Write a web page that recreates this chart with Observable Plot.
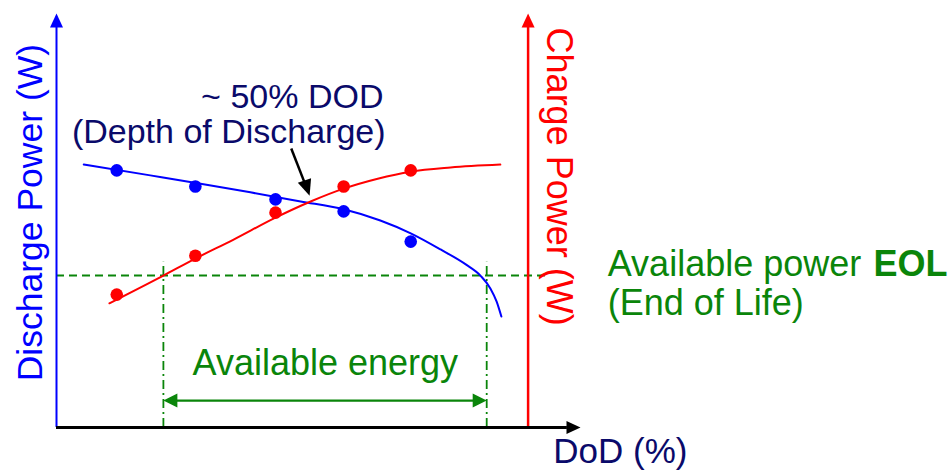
<!DOCTYPE html>
<html>
<head>
<meta charset="utf-8">
<script src="https://cdn.jsdelivr.net/npm/d3@7"></script>
<script src="https://cdn.jsdelivr.net/npm/@observablehq/plot@0.6"></script>
<style>
  html, body { margin: 0; padding: 0; background: #ffffff; }
  #chart { width: 951px; height: 470px; }
</style>
</head>
<body>
<div id="chart"></div>
<script>
// ---- Data (schematic units: DoD in %, power in arbitrary W units) ----
const measuredDoD      = [11.5, 26.5, 41.8, 54.8, 67.6];
const dischargePower   = [62.1, 58.2, 55.1, 52.2, 44.9];
const chargePower      = [32.1, 41.5, 51.9, 58.2, 62.1];

const dischargeCurveDoD = [5.2, 17.9, 27.5, 37.0, 46.6, 54.8, 61.8, 67.6, 73.3, 78.1, 80.9, 82.8, 84.0, 84.9];
const dischargeCurveW   = [63.5, 60.9, 58.9, 56.8, 54.6, 52.7, 50.0, 46.9, 43.0, 39.4, 36.7, 33.6, 30.4, 26.8];

const chargeCurveDoD = [10.1, 20.4, 26.5, 33.8, 41.8, 48.5, 54.8, 61.3, 67.6, 75.2, 84.7];
const chargeCurveW   = [30.0, 36.7, 40.8, 45.4, 50.7, 54.6, 57.7, 60.1, 61.8, 62.8, 63.5];

const eolPower = 36.7;               // available power at End of Life
const energyStartDoD = 20.4;         // charge curve meets EOL power
const energyEndDoD = 82.1;           // discharge curve meets EOL power

const leftAxisLabel  = "Discharge Power (W)";
const rightAxisLabel = "Charge Power (W)";
const xAxisLabel     = "DoD (%)";
const dodNoteLines   = ["~ 50% DOD", "(Depth of Discharge)"];
const eolLabel       = ["Available power ", "EOL", "(End of Life)"];
const energyLabel    = "Available energy";

// ---- Build tables ----
const pointsD = measuredDoD.map((x, i) => ({x, y: dischargePower[i]}));
const pointsC = measuredDoD.map((x, i) => ({x, y: chargePower[i]}));
const curveD = dischargeCurveDoD.map((x, i) => ({x, y: dischargeCurveW[i]}));
const curveC = chargeCurveDoD.map((x, i) => ({x, y: chargeCurveW[i]}));

// Filled arrowhead symbol, tip at the anchor point, pointing up before rotation
function head(L, W) {
  return { draw(ctx) { ctx.moveTo(0, 0); ctx.lineTo(W / 2, L); ctx.lineTo(-W / 2, L); ctx.closePath(); } };
}

const BLUE = "#0000ff", RED = "#ff0000", GREEN = "#0a850a", NAVY = "#0a0a6a", BLACK = "#000000";
const FONT = "Liberation Sans, Arial, Helvetica, sans-serif";

const chart = Plot.plot({
  width: 951,
  height: 470,
  marginLeft: 56,
  marginRight: 371,
  marginTop: 13,
  marginBottom: 43,
  x: { domain: [0, 100], axis: null },
  y: { domain: [0, 100], axis: null },
  style: { fontFamily: FONT, background: "#ffffff", overflow: "visible" },
  marks: [
    // EOL dashed level
    Plot.ruleY([eolPower], { x1: 0, x2: 93.7, stroke: GREEN, strokeWidth: 2, strokeDasharray: "8,5" }),
    // available energy boundaries (dash-dot)
    Plot.ruleX([energyStartDoD, energyEndDoD], { y1: 0, y2: 39.9, stroke: GREEN, strokeWidth: 1.8, strokeDasharray: "9,4,2,4" }),
    // available energy double arrow
    Plot.ruleY([6.5], { x1: energyStartDoD + 2, x2: energyEndDoD - 2, stroke: GREEN, strokeWidth: 2.2 }),
    Plot.dot([energyStartDoD], { x: d => d, y: 6.5, symbol: head(14, 14), rotate: -90, fill: GREEN, stroke: "none" }),
    Plot.dot([energyEndDoD], { x: d => d, y: 6.5, symbol: head(14, 14), rotate: 90, fill: GREEN, stroke: "none" }),

    // axes
    Plot.ruleX([0], { y1: 0, y2: 97, stroke: BLUE, strokeWidth: 2 }),
    Plot.dot([0], { x: 0, y: 100, symbol: head(14, 13), fill: BLUE, stroke: "none" }),
    Plot.ruleX([90], { y1: 0, y2: 97, stroke: RED, strokeWidth: 2.5 }),
    Plot.dot([90], { x: 90, y: 100, symbol: head(14, 13), fill: RED, stroke: "none" }),
    Plot.ruleY([0], { x1: 0, x2: 97.5, stroke: BLACK, strokeWidth: 3 }),
    Plot.dot([0], { x: 100, y: 0, symbol: head(14, 13), rotate: 90, fill: BLACK, stroke: "none" }),

    // curves
    Plot.line(curveD, { x: "x", y: "y", curve: "monotone-x", stroke: BLUE, strokeWidth: 2 }),
    Plot.line(curveC, { x: "x", y: "y", curve: "monotone-x", stroke: RED, strokeWidth: 2 }),
    Plot.dot(pointsD, { x: "x", y: "y", r: 6.3, fill: BLUE, stroke: "none" }),
    Plot.dot(pointsC, { x: "x", y: "y", r: 6.3, fill: RED, stroke: "none" }),

    // annotation arrow for ~50% DOD
    Plot.link([0], { x1: 44.8, y1: 67.4, x2: 47.6, y2: 58.3, stroke: BLACK, strokeWidth: 2.5 }),
    Plot.dot([0], { x: 48.3, y: 56.0, symbol: head(16, 14), rotate: 161.2, fill: BLACK, stroke: "none" }),

    // texts
    Plot.text([dodNoteLines[0]], { x: 62.4, y: 77.1, text: d => d, textAnchor: "end", lineAnchor: "bottom", fontSize: 34, fill: NAVY }),
    Plot.text([dodNoteLines[1]], { x: 62.8, y: 68.6, text: d => d, textAnchor: "end", lineAnchor: "bottom", fontSize: 34, fill: NAVY }),
    Plot.text([energyLabel], { x: 51.3, y: 12.6, text: d => d, textAnchor: "middle", lineAnchor: "bottom", fontSize: 36, fill: GREEN }),
    Plot.text([eolLabel[0]], { x: 105.2, y: 36.7, text: d => d, textAnchor: "start", lineAnchor: "bottom", fontSize: 36, fill: GREEN }),
    Plot.text([eolLabel[1]], { x: 155.9, y: 36.7, text: d => d, textAnchor: "start", lineAnchor: "bottom", fontSize: 36, fontWeight: "bold", fill: GREEN }),
    Plot.text([eolLabel[2]], { x: 105.2, y: 27.1, text: d => d, textAnchor: "start", lineAnchor: "bottom", fontSize: 36, fill: GREEN }),
    Plot.text([xAxisLabel], { x: 94.8, y: -8.6, text: d => d, textAnchor: "start", lineAnchor: "bottom", fontSize: 35, fill: NAVY }),
    Plot.text([leftAxisLabel], { x: -2.7, y: 51.9, text: d => d, rotate: -90, textAnchor: "middle", lineAnchor: "bottom", fontSize: 35.5, fill: BLUE }),
    Plot.text([rightAxisLabel], { x: 93.7, y: 60.6, text: d => d, rotate: 90, textAnchor: "middle", lineAnchor: "bottom", fontSize: 36, fill: RED })
  ]
});

document.getElementById("chart").appendChild(chart);
</script>
</body>
</html>
